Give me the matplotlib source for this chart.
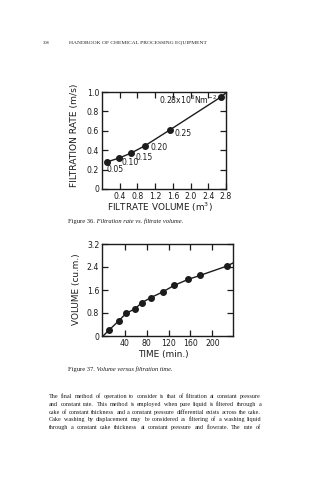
import matplotlib
matplotlib.use('Agg')
import matplotlib.pyplot as plt

W, H = 322, 480
INK = '#1c1c1c'

# Fig. 36 - filtration rate against filtrate volume, one point per pressure
volume_m3 = [0.12, 0.39, 0.655, 0.97, 1.535, 2.69]
rate_ms = [0.28, 0.32, 0.37, 0.446, 0.61, 0.95]
pressure_labels = ['0.05', '0.10', '0.15', '0.20', '0.25', '0.28x10$^{6}$Nm$^{-2}$']
rate_curve_end = (2.8, 0.99)
rate_xticks = [0.4, 0.8, 1.2, 1.6, 2.0, 2.4, 2.8]
rate_yticks = [0, 0.2, 0.4, 0.6, 0.8, 1.0]
rate_yticklabels = ['0', '0.2', '0.4', '0.6', '0.8', '1.0']

# Fig. 37 - filtrate volume against time
time_min = [11, 29, 42, 58, 71, 87, 110, 130, 156, 178, 226.5]
volume_cum = [0.21, 0.53, 0.79, 0.94, 1.16, 1.33, 1.54, 1.76, 1.97, 2.11, 2.43]
volume_curve_start = (0, 0)
volume_curve_end = (238, 2.54)
time_xticks = [40, 80, 120, 160, 200]
volume_yticks = [0, 0.8, 1.6, 2.4, 3.2]
volume_yticklabels = ['0', '0.8', '1.6', '2.4', '3.2']

body_lines = [
    "The final method of operation to consider is that of filtration at constant pressure",
    "and constant rate. This method is employed when pure liquid is filtered through a",
    "cake of constant thickness and a constant pressure differential exists across the cake.",
    "Cake washing by displacement may be considered as filtering of a washing liquid",
    "through a constant cake thickness at constant pressure and flowrate. The rate of",
]

# pixel offsets of the pressure labels from their points
label_offsets = [(-1, -8, 'left'), (2, -5, 'left'), (4, -4, 'left'),
                 (6, -2, 'left'), (5, -4, 'left'), (-4, -3, 'right')]


def fx(px):
    return px / W


def fy(py):
    return 1 - py / H


fig = plt.figure(figsize=(W / 100, H / 100), dpi=100)
fig.patch.set_facecolor('white')
r = fig.canvas.get_renderer()

SANS = 'DejaVu Sans'
SERIF = 'Liberation Serif'


def style_axes(ax):
    for s in ax.spines.values():
        s.set_linewidth(1.0)
        s.set_color(INK)
    ax.tick_params(which='both', direction='in', top=True, right=True,
                   length=4, width=0.9, color=INK, labelsize=5.6,
                   labelcolor=INK, pad=2)
    for lab in ax.get_xticklabels() + ax.get_yticklabels():
        lab.set_family(SANS)


# ---- figure 36 ----
ax1 = fig.add_axes([fx(102), fy(189), (226 - 102) / W, (189 - 92) / H])
ax1.set_xlim(0, 2.8)
ax1.set_ylim(0, 1.0)
ax1.set_xticks(rate_xticks)
ax1.set_xticklabels([f'{v:.1f}' for v in rate_xticks])
ax1.set_yticks(rate_yticks)
ax1.set_yticklabels(rate_yticklabels)
style_axes(ax1)
ax1.plot(volume_m3 + [rate_curve_end[0]], rate_ms + [rate_curve_end[1]],
         color=INK, lw=1.0, clip_on=False)
ax1.plot(volume_m3, rate_ms, 'o', ms=4, color=INK, clip_on=False)
for xv, yv, lab, (dx, dy, ha) in zip(volume_m3, rate_ms, pressure_labels, label_offsets):
    ax1.annotate(lab, (xv, yv), xytext=(dx, dy), textcoords='offset pixels',
                 ha=ha, va='center', fontsize=5.6, color=INK, family=SANS)

fig.text(fx(160), fy(207), 'FILTRATE VOLUME (m$^{3}$)', ha='center', va='center',
         fontsize=6.4, color=INK, family=SANS)
fig.text(fx(75), fy(135), 'FILTRATION RATE (m/s)', ha='center', va='center',
         rotation=90, fontsize=6.6, color=INK, family=SANS)

# ---- figure 37 ----
ax2 = fig.add_axes([fx(102), fy(336), (233 - 102) / W, (336 - 244) / H])
ax2.set_xlim(-2, 238)
ax2.set_ylim(0, 3.2)
ax2.set_xticks(time_xticks)
ax2.set_xticklabels([str(v) for v in time_xticks])
ax2.set_yticks(volume_yticks)
ax2.set_yticklabels(volume_yticklabels)
style_axes(ax2)
ax2.plot([volume_curve_start[0]] + time_min + [volume_curve_end[0]],
         [volume_curve_start[1]] + volume_cum + [volume_curve_end[1]],
         color=INK, lw=1.0, clip_on=False)
ax2.plot(time_min, volume_cum, 'o', ms=4, color=INK, clip_on=False)

fig.text(fx(163), fy(354), 'TIME (min.)', ha='center', va='center',
         fontsize=6.4, color=INK, family=SANS)
fig.text(fx(77), fy(289), 'VOLUME (cu.m.)', ha='center', va='center',
         rotation=90, fontsize=6.4, color=INK, family=SANS)


# ---- page text ----
def fitted(s, x0, x1, y, **kw):
    t = fig.text(fx(x0), fy(y), s, ha='left', va='center', fontsize=5,
                 color=INK, family=SERIF, **kw)
    w = t.get_window_extent(r).width
    t.set_fontsize(5 * (x1 - x0) / w)
    return t


def caption(num, rest, x0, x1, y):
    size = 4.4
    a = fig.text(fx(x0), fy(y), num, ha='left', va='center', fontsize=size,
                 color=INK, family=SERIF)
    b = fig.text(0, fy(y), rest, ha='left', va='center', fontsize=size,
                 color=INK, family=SERIF, style='italic')
    wa = a.get_window_extent(r).width
    wb = b.get_window_extent(r).width
    k = (x1 - x0) / (wa + wb)
    a.set_fontsize(size * k)
    b.set_fontsize(size * k)
    b.set_x(fx(x0 + wa * k))


def body_size(lines, width):
    # largest size at which every line still fits the measure
    sizes = []
    for line in lines:
        t = fig.text(0, 0, line, fontsize=5, family=SERIF)
        sizes.append(5 * width / t.get_window_extent(r).width)
        t.remove()
    return min(sizes)


def justified(line, x0, x1, y, size):
    words = line.split()
    arts = [fig.text(0, fy(y), w, ha='left', va='baseline', fontsize=size,
                     color=INK, family=SERIF) for w in words]
    widths = [a.get_window_extent(r).width for a in arts]
    gap = (x1 - x0 - sum(widths)) / (len(words) - 1)
    x = x0
    for a, w in zip(arts, widths):
        a.set_x(fx(x))
        x += w + gap


fitted('308', 43, 50, 43)
fitted('HANDBOOK OF CHEMICAL PROCESSING EQUIPMENT', 69, 206, 43)

caption('Figure 36.', ' Filtration rate vs. filtrate volume.', 68, 186, 221)
caption('Figure 37.', ' Volume versus filtration time.', 68, 175, 369)

size = body_size(body_lines, 261 - 49)
for i, line in enumerate(body_lines):
    justified(line, 49, 261, 398 + i * 7.8, size)

fig.savefig('out.png', dpi=100, facecolor='white')
